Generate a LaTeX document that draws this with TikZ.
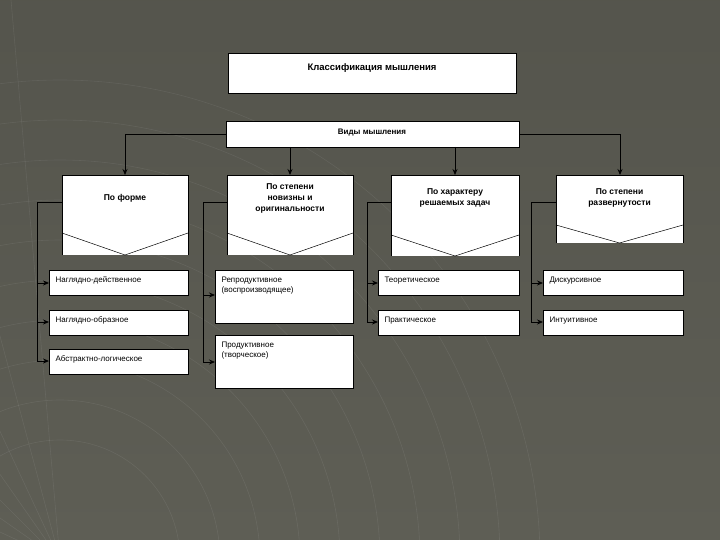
\documentclass[tikz,border=0pt]{standalone}
\usepackage{fontspec}
\setmainfont{Liberation Sans}
\usetikzlibrary{arrows.meta}
\definecolor{bgc}{HTML}{5E5E55}
\begin{document}
\begin{tikzpicture}[x=1pt,y=-1pt,
  wbox/.style={draw=black,fill=white,line width=0.5pt},
  con/.style={draw=black,line width=0.8pt},
  arr/.style={con,-{Stealth[length=6pt,width=5pt]}},
  sub/.style={font=\fontsize{8}{10}\selectfont,align=left,anchor=north west}]
\useasboundingbox (0,0) rectangle (720,540);
\shade[top color=bgc!90!black,bottom color=bgc] (0,0) rectangle (720,540);
\begin{scope}[draw=white,opacity=0.07,line width=0.6pt]
\foreach \r in {120,160,...,480} \draw (60,560) circle (\r);
\foreach \a in {5,15,...,85} \draw (60,560) -- ++(\a:-600);
\end{scope}
% title
\draw[wbox] (228,53) rectangle (516,93);
\node[font=\bfseries\fontsize{9.5}{11}\selectfont] (title) at (372,68) {Классификация мышления};
\draw[wbox] (226,121) rectangle (519,147);
\node[font=\bfseries\fontsize{8}{9}\selectfont] (vidy) at (372,133) {Виды мышления};
\coordinate (vl) at (226,134); \coordinate (vr) at (519,134);
% category boxes
\newcommand\catbox[6]{% x1 x2 ybot yside name text
  \fill[white] (#1,175) rectangle (#2,#3);
  \draw[line width=0.5pt] (#1,#3) -- (#1,175) -- (#2,175) -- (#2,#3);
  \draw[line width=0.5pt] (#1,#4) -- ({(#1+#2)/2},#3) -- (#2,#4);
  \node[font=\bfseries\fontsize{8.5}{11}\selectfont,align=center] (#5) at ({(#1+#2)/2},198) {#6};}
\catbox{62}{188}{255}{233}{c1}{По форме}
\catbox{227}{353}{255}{233}{c2}{По степени\\новизны и\\оригинальности}
\catbox{391}{519}{256}{235}{c3}{По характеру\\решаемых задач}
\catbox{556}{683}{243}{225}{c4}{По степени\\развернутости}
% top arrows
\draw[arr] (vl) -| (125,175);
\draw[arr] (290,147) -- (290,175);
\draw[arr] (455,147) -- (455,175);
\draw[arr] (vr) -| (620,175);
% sub boxes
\newcommand\subbox[6]{% x1 y1 x2 y2 name text
  \draw[wbox] (#1,#2) rectangle (#3,#4);
  \node[sub] (#5) at (#1+3,#2+3) {#6};}
\subbox{49}{270}{188}{295}{a1}{Наглядно-действенное}
\subbox{49}{310}{188}{335}{a2}{Наглядно-образное}
\subbox{49}{349}{188}{374}{a3}{Абстрактно-логическое}
\subbox{215}{270}{353}{323}{b1}{Репродуктивное\\(воспроизводящее)}
\subbox{215}{335}{353}{388}{b2}{Продуктивное\\(творческое)}
\subbox{378}{270}{519}{295}{d1}{Теоретическое}
\subbox{378}{310}{519}{335}{d2}{Практическое}
\subbox{543}{270}{683}{295}{e1}{Дискурсивное}
\subbox{543}{310}{683}{335}{e2}{Интуитивное}
% brackets
\draw[con] (62,202) -- (37,202) -- (37,361);
\draw[arr] (37,283) -- (49,283);
\draw[arr] (37,322) -- (49,322);
\draw[arr] (37,361) -- (49,361);
\draw[con] (227,202) -- (203,202) -- (203,362);
\draw[arr] (203,295) -- (215,295);
\draw[arr] (203,362) -- (215,362);
\draw[con] (391,202) -- (367,202) -- (367,322);
\draw[arr] (367,283) -- (378,283);
\draw[arr] (367,322) -- (378,322);
\draw[con] (556,202) -- (531,202) -- (531,322);
\draw[arr] (531,283) -- (543,283);
\draw[arr] (531,322) -- (543,322);
\end{tikzpicture}
\end{document}
